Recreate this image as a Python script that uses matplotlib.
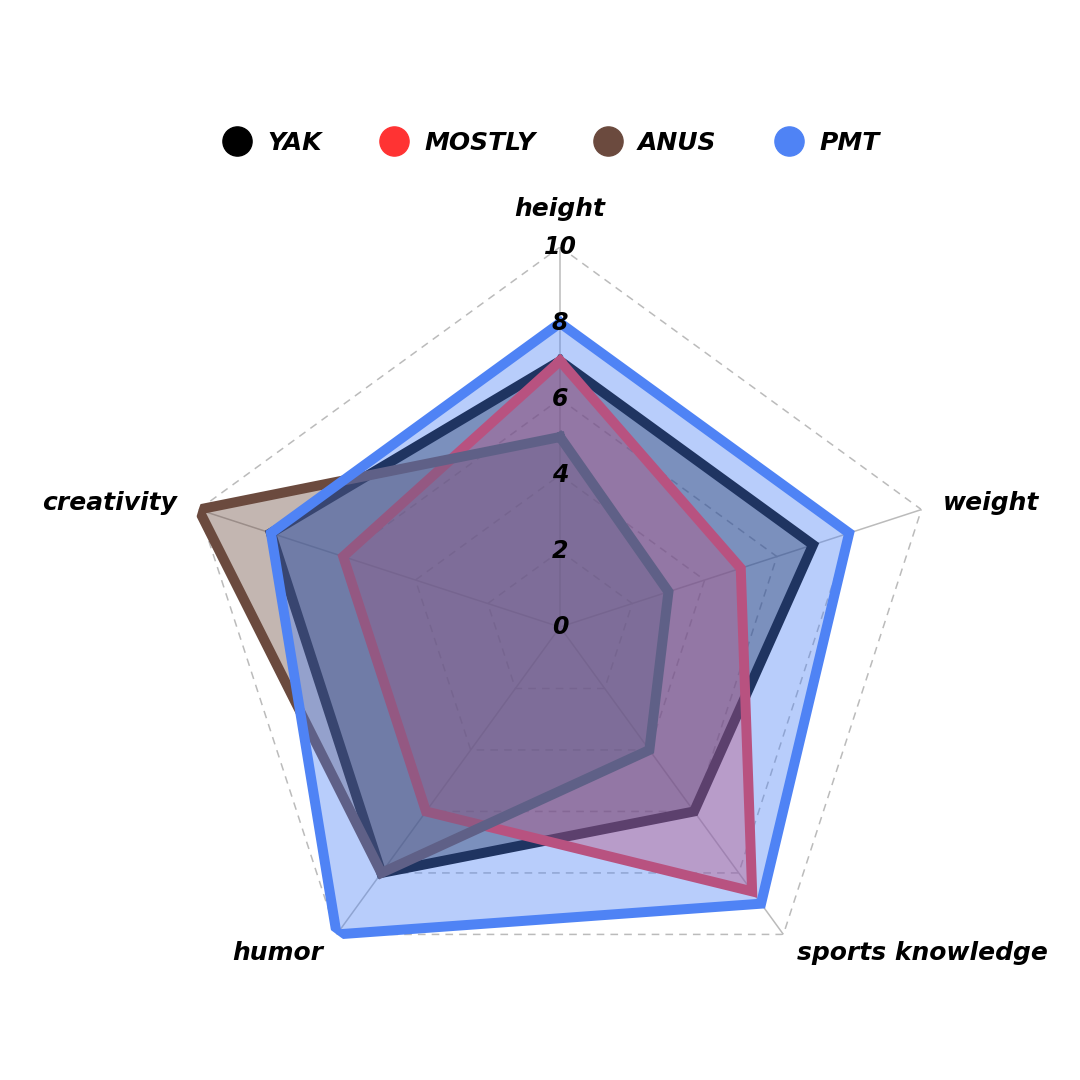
import matplotlib.pyplot as plt
import numpy as np
from matplotlib.lines import Line2D

plt.rcParams['font.family'] = ['DejaVu Sans']

# Radar data (scores 0-10)
categories = ["height", "weight", "sports knowledge", "humor", "creativity"]
names = ["YAK", "MOSTLY", "ANUS", "PMT"]
yak = [7, 7, 6, 8, 8]
mostly = [7, 5, 8.6, 6, 6]
anus = [5, 3, 4, 8, 10]
pmt = [8, 8, 9, 10, 8]
colors = ["#000000", "#ff3333", "#6b4a3e", "#4f83f5"]
ticks = [0, 2, 4, 6, 8, 10]

series = [yak, mostly, anus, pmt]
n = len(categories)
theta = np.linspace(0, 2 * np.pi, n, endpoint=False)
theta_c = np.append(theta, theta[0])

fig = plt.figure(figsize=(10.8, 10.8), dpi=100)
ax = fig.add_axes([0.1667, 0.0676, 0.7037, 0.7037], polar=True)
ax.set_theta_offset(np.pi / 2)
ax.set_theta_direction(-1)
ax.set_ylim(0, 10)
ax.grid(False)
ax.spines['polar'].set_visible(False)
ax.set_xticks([])
ax.set_yticks([])

# pentagon grid
for r in ticks[1:]:
    ax.plot(theta_c, [r] * (n + 1), color="#bbbbbb", lw=1.1, ls=(0, (5, 4)), zorder=0)
for t in theta:
    ax.plot([t, t], [0, 10], color="#bbbbbb", lw=1.1, zorder=0)

for vals, c in zip(series, colors):
    v = np.append(vals, vals[0])
    ax.fill(theta_c, v, color=c, alpha=0.4, lw=0, zorder=2)
    ax.plot(theta_c, v, color=c, lw=7.2, solid_joinstyle='miter', zorder=2)

font = dict(fontweight='bold', fontstyle='oblique', color='black')

for r in ticks:
    ax.text(0, r, str(r), ha='center', va='center', fontsize=17, zorder=5, **font)

for t, lab in zip(theta, categories):
    s = np.sin(t)
    if abs(s) < 0.1:
        ax.text(t, 11.0, lab, ha='center', va='center', fontsize=18, **font)
    else:
        ax.text(t, 10.6, lab, ha='left' if s > 0 else 'right', va='center',
                fontsize=18, **font)

handles = [Line2D([], [], ls='none', marker='o', markersize=21, color=c) for c in colors]
fig.legend(handles, names, loc='center', bbox_to_anchor=(0.51, 0.868), ncol=4,
           frameon=False, columnspacing=2.3, handletextpad=0.6, handlelength=1.2,
           prop=dict(weight='bold', style='oblique', size=18))

fig.savefig("out.png", dpi=100)
